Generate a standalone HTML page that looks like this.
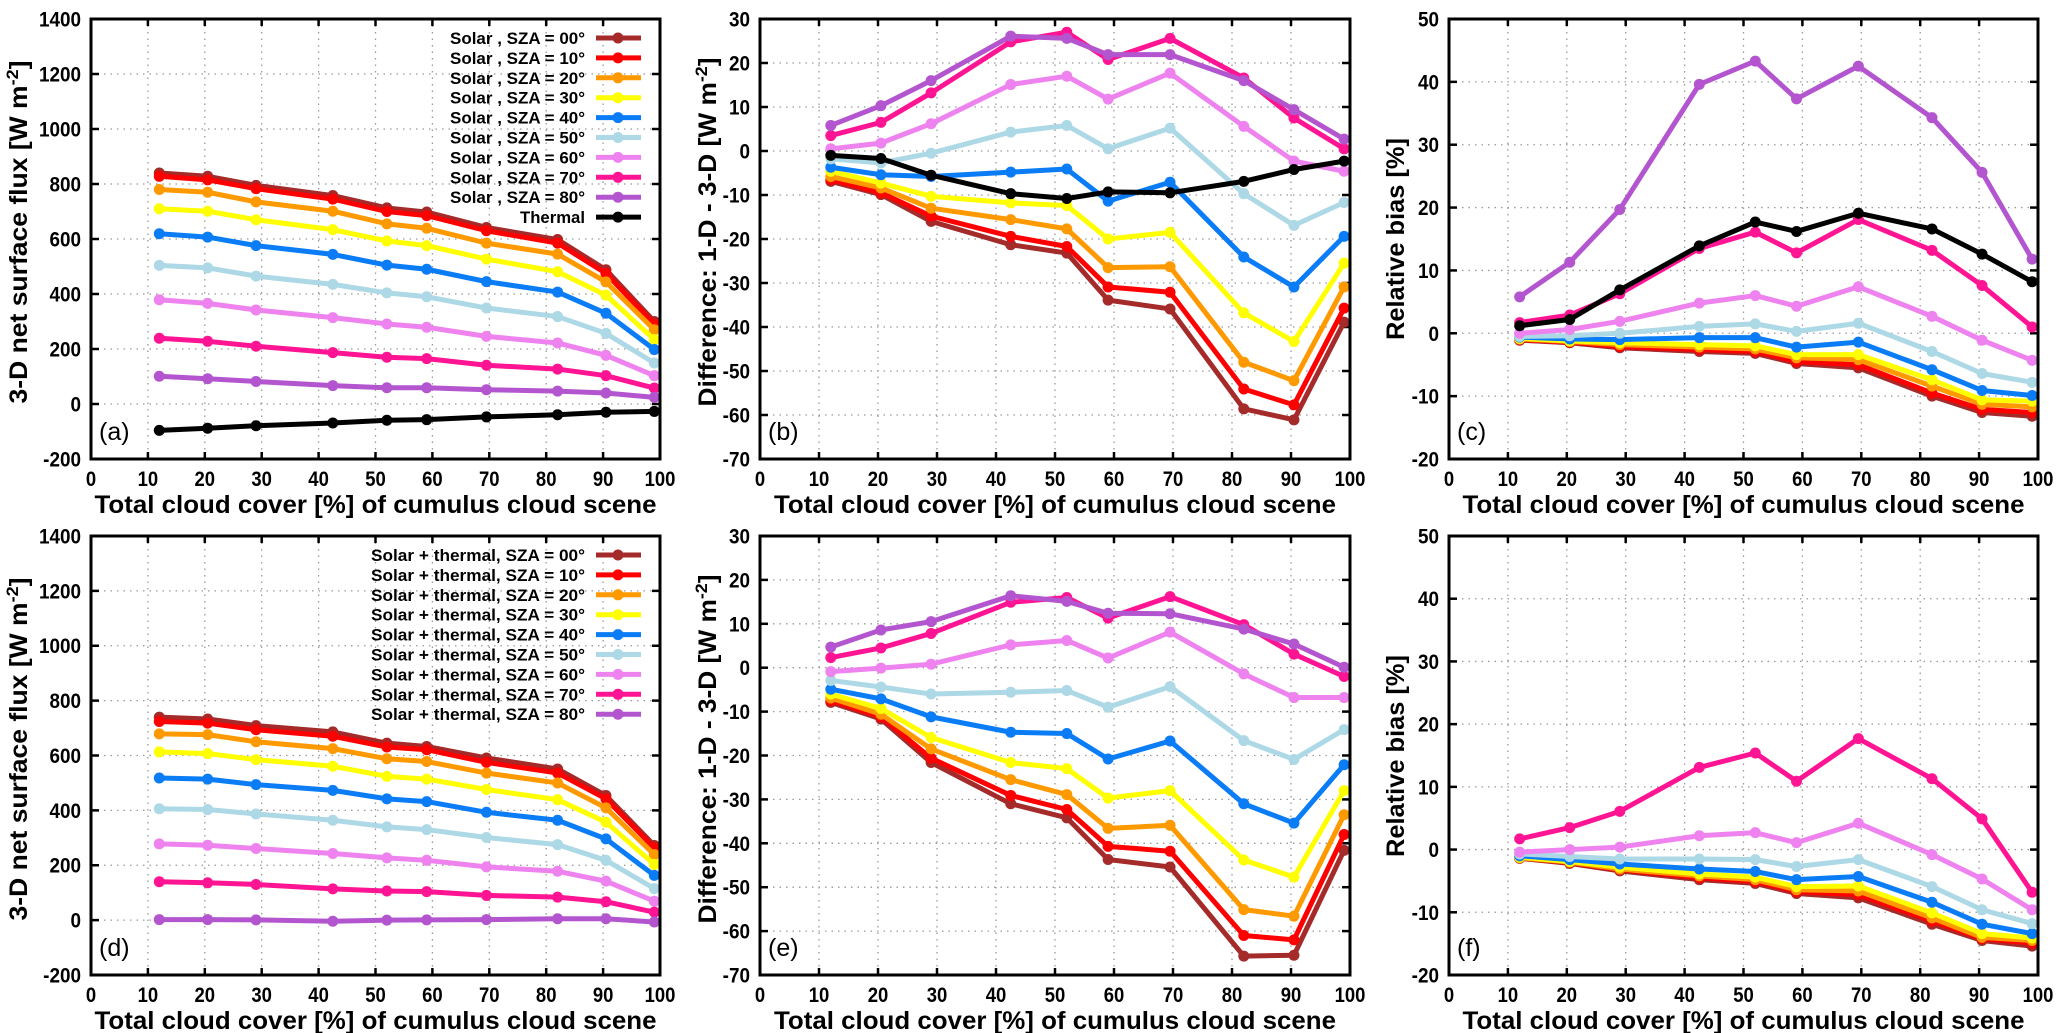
<!DOCTYPE html>
<html><head><meta charset="utf-8"><title>Cloud cover flux panels</title>
<style>
html,body{margin:0;padding:0;background:#fff;}
svg{display:block;font-family:"Liberation Sans",Arial,sans-serif;}
</style></head>
<body>
<svg id="fig" width="2067" height="1033" viewBox="0 0 2067 1033" xmlns="http://www.w3.org/2000/svg"></svg>
<script>
const cover=[12,20.5,29,42.5,52,59,69.5,82,90.5,99];
const xTicks=[0,10,20,30,40,50,60,70,80,90,100];
const fluxTicks=[-200,0,200,400,600,800,1000,1200,1400];
const diffTicks=[-70,-60,-50,-40,-30,-20,-10,0,10,20,30];
const biasTicks=[-20,-10,0,10,20,30,40,50];
const szaLabels=['00','10','20','30','40','50','60','70','80'];
const seriesColors=['#a52a2a','#ff0000','#ff9900','#ffff00','#0a7cf5','#add8e6','#ee82ee','#ff1493','#b455d0'];

const aSolar=[
[840,828,795,758,713,698,642,598,488,300],
[828,815,783,745,700,685,630,585,475,290],
[780,770,735,701,655,639,585,545,444,270],
[710,701,670,634,593,576,527,481,396,234],
[619,607,576,544,505,490,445,407,330,198],
[504,495,465,435,404,390,349,318,257,149],
[379,366,342,314,291,279,246,222,177,103],
[239,228,210,187,170,165,141,127,103,58],
[101,92,82,67,59,59,52,47,40,24]];
const aThermal=[-96,-88,-79,-69,-59,-57,-47,-39,-30,-27];

const bSolar=[
[-6.9,-9.9,-16,-21.3,-23.2,-33.9,-35.9,-58.6,-61.1,-38.9],
[-6.5,-9.5,-14.8,-19.4,-21.7,-30.9,-32.1,-54.1,-57.7,-35.7],
[-5.8,-8.4,-13,-15.6,-17.7,-26.5,-26.3,-48,-52.2,-30.9],
[-4.6,-7.3,-10.3,-11.8,-12.4,-20,-18.5,-36.8,-43.3,-25.5],
[-3.7,-5.4,-5.8,-4.8,-4.1,-11.4,-7.1,-24.1,-30.9,-19.4],
[-1.8,-2.7,-0.5,4.3,5.8,0.5,5.2,-9.7,-16.9,-11.7],
[0.5,1.8,6.2,15.1,17,11.8,17.7,5.6,-2.3,-4.6],
[3.5,6.5,13.2,24.8,27,20.8,25.6,16.6,7.5,0.5],
[5.8,10.3,16,26.1,25.6,21.9,21.9,16,9.4,2.7]];
const bThermal=[-1,-1.7,-5.5,-9.7,-10.8,-9.3,-9.5,-6.9,-4.2,-2.3];

const cSolar=[
[-1.1,-1.5,-2.3,-2.9,-3.2,-4.8,-5.5,-10,-12.6,-13.2],
[-1,-1.4,-2.1,-2.6,-2.9,-4.5,-5,-9.5,-12.1,-12.6],
[-0.9,-1.3,-1.8,-2.2,-2.5,-3.9,-4.2,-8.4,-11.3,-11.7],
[-0.8,-1.2,-1.5,-1.8,-2,-3.4,-3.4,-7.4,-10.6,-10.8],
[-0.6,-0.9,-1,-0.7,-0.7,-2.2,-1.4,-5.8,-9.1,-9.9],
[-0.5,-0.4,0,1.1,1.5,0.3,1.6,-2.9,-6.4,-7.8],
[0,0.6,1.9,4.8,6,4.3,7.4,2.7,-1.1,-4.3],
[1.7,2.9,6.3,13.5,16.1,12.8,18.1,13.2,7.6,1],
[5.8,11.3,19.7,39.6,43.3,37.3,42.5,34.3,25.6,11.8]];
const cThermal=[1.2,2.2,6.9,13.9,17.7,16.2,19.1,16.6,12.6,8.2];

const dTotal=[
[740,733,709,686,645,633,591,551,454,272],
[724,718,694,670,631,621,575,536,442,263],
[679,676,650,625,588,578,536,500,409,239],
[613,607,585,561,524,514,476,439,357,203],
[518,514,494,473,442,432,393,364,296,163],
[406,403,387,364,340,330,301,275,218,115],
[278,273,261,243,227,218,194,178,142,69],
[140,136,130,114,106,104,90,84,67,29],
[2,2,1,-4,0,1,2,5,5,-7]];

const eTotal=[
[-7.9,-11.7,-21.6,-31,-34.2,-43.7,-45.4,-65.7,-65.5,-41.6],
[-7.5,-11.2,-20.6,-29.1,-32.3,-40.7,-41.8,-61,-62,-38],
[-6.9,-10.6,-18.5,-25.5,-28.9,-36.6,-35.9,-55.1,-56.6,-33.5],
[-6,-9.3,-15.9,-21.6,-23,-29.7,-28,-43.8,-47.7,-28],
[-4.9,-7.1,-11.2,-14.7,-15,-20.8,-16.7,-31,-35.4,-22.1],
[-2.9,-4.4,-6,-5.6,-5.2,-9,-4.3,-16.6,-20.9,-14.1],
[-0.9,-0.1,0.8,5.2,6.2,2.2,8.1,-1.4,-6.8,-6.8],
[2.3,4.5,7.8,14.9,16,11.3,16.2,9.8,3.1,-2.0],
[4.7,8.6,10.5,16.4,15.1,12.4,12.3,8.8,5.4,0.1]];

const fTotal=[
[-1.4,-2.2,-3.4,-4.8,-5.4,-7,-7.7,-11.9,-14.5,-15.4],
[-1.3,-2.1,-3.2,-4.5,-5.1,-6.7,-7.2,-11.4,-14.2,-14.9],
[-1.3,-2,-3.1,-4.2,-4.8,-6.4,-6.6,-10.9,-14,-14.5],
[-1.2,-1.9,-2.8,-3.9,-4.4,-5.9,-5.8,-10.1,-13.4,-14.1],
[-1,-1.6,-2.3,-3.1,-3.5,-4.8,-4.3,-8.4,-11.9,-13.4],
[-0.7,-1.1,-1.5,-1.5,-1.6,-2.7,-1.6,-5.9,-9.6,-11.8],
[-0.4,0,0.4,2.2,2.7,1.1,4.2,-0.8,-4.7,-9.6],
[1.7,3.5,6.1,13.1,15.4,10.9,17.7,11.3,4.9,-6.8],
[null,null,null,null,null,null,null,null,null,null]];

const NS='http://www.w3.org/2000/svg';
const svg=document.getElementById('fig');
function mk(tag,attrs,parent){const e=document.createElementNS(NS,tag);for(const k in attrs)e.setAttribute(k,attrs[k]);(parent||svg).appendChild(e);return e;}

const XT='Total cloud cover [%] of cumulus cloud scene';
const panels=[
 {id:'a',x0:91,x1:660,y0:19,y1:459,ticks:fluxTicks,solar:aSolar,thermal:aThermal,yt:'3-D net surface flux [W m',ytx:18,ytl:343,legend:'solar'},
 {id:'b',x0:760,x1:1350,y0:19,y1:459,ticks:diffTicks,solar:bSolar,thermal:bThermal,yt:'Difference:  1-D - 3-D  [W m',ytx:707,ytl:349},
 {id:'c',x0:1449,x1:2038,y0:19,y1:459,ticks:biasTicks,solar:cSolar,thermal:cThermal,yt:'Relative bias [%]',ytx:1395,ytl:202,plain:true},
 {id:'d',x0:91,x1:660,y0:536,y1:975,ticks:fluxTicks,solar:dTotal,thermal:null,yt:'3-D net surface flux  [W m',ytx:18,ytl:343,legend:'total'},
 {id:'e',x0:760,x1:1350,y0:536,y1:975,ticks:diffTicks,solar:eTotal,thermal:null,yt:'Difference:  1-D - 3-D  [W m',ytx:707,ytl:349},
 {id:'f',x0:1449,x1:2038,y0:536,y1:975,ticks:biasTicks,solar:fTotal,thermal:null,yt:'Relative bias [%]',ytx:1395,ytl:202,plain:true}
];

panels.forEach(p=>{
 const g=mk('g',{});
 
 
 const ymin=p.ticks[0], ymax=p.ticks[p.ticks.length-1];
 const sx=v=>p.x0+(v-0)/(100-0)*(p.x1-p.x0);
 const sy=v=>p.y1-(v-ymin)/(ymax-ymin)*(p.y1-p.y0);
 // grid
 const grid=mk('g',{stroke:'#999','stroke-width':1.3,'stroke-dasharray':'1.5 5'},g);
 
 
 xTicks.slice(1,-1).forEach(t=>mk('line',{x1:sx(t),x2:sx(t),y1:p.y0,y2:p.y1},grid));
 p.ticks.slice(1,-1).forEach(t=>mk('line',{x1:p.x0,x2:p.x1,y1:sy(t),y2:sy(t)},grid));
 // ticks
 const tk=mk('g',{stroke:'#000','stroke-width':2.5},g);
 xTicks.forEach(t=>{mk('line',{x1:sx(t),x2:sx(t),y1:p.y1,y2:p.y1-7},tk);mk('line',{x1:sx(t),x2:sx(t),y1:p.y0,y2:p.y0+7},tk);});
 p.ticks.forEach(t=>{mk('line',{x1:p.x0,x2:p.x0+8,y1:sy(t),y2:sy(t)},tk);mk('line',{x1:p.x1,x2:p.x1-8,y1:sy(t),y2:sy(t)},tk);});
 // tick labels
 const xl=mk('g',{'font-size':21,'font-weight':'bold','text-anchor':'middle'},g);
 
 
 xTicks.forEach(t=>{const e=mk('text',{x:sx(t),y:p.y1+27,transform:`translate(${sx(t)},0) scale(0.88,1) translate(${-sx(t)},0)`},xl);e.textContent=t;});
 const yl=mk('g',{'font-size':21,'font-weight':'bold','text-anchor':'end'},g);
 
 
 p.ticks.forEach(t=>{const x=p.x0-10;const e=mk('text',{x:x,y:sy(t)+7.5,transform:`translate(${x},0) scale(0.9,1) translate(${-x},0)`},yl);e.textContent=t;});
 // axis titles
 const xt=mk('text',{x:(p.x0+p.x1)/2,y:p.y1+54,'font-size':25,'font-weight':'bold','text-anchor':'middle',textLength:562,lengthAdjust:'spacingAndGlyphs'},g);
 xt.textContent=XT;
 
 
 const cy=p.plain?(p.y0+220):(p.y0+213);
 const yt=mk('text',{x:0,y:0,'font-size':25,'font-weight':'bold','text-anchor':'middle',transform:`translate(${p.ytx+9},${cy}) rotate(-90)`,textLength:p.ytl,lengthAdjust:'spacingAndGlyphs'},g);
 if(p.plain){yt.textContent=p.yt;}else{yt.textContent=p.yt;const sup=mk('tspan',{dy:-9,'font-size':17},yt);sup.textContent='-2';const r=mk('tspan',{dy:9},yt);r.textContent=']';}
 
 
 // panel label
 const pl=mk('text',{x:p.x0+8,y:p.y1-19,'font-size':25},g);
 pl.textContent='('+p.id+')';
 
 
 // series
 const drawSeries=(vals,color,name)=>{
  const sg=mk('g',{},g);
  
  
  const pts=[];vals.forEach((v,i)=>{if(v!==null)pts.push([sx(cover[i]),sy(v)]);});
  if(!pts.length)return;
  mk('polyline',{points:pts.map(q=>q.join(',')).join(' '),fill:'none',stroke:color,'stroke-width':5,'stroke-linejoin':'round'},sg);
  pts.forEach(q=>mk('circle',{cx:q[0],cy:q[1],r:5.5,fill:color},sg));
 };
 p.solar.forEach((s,k)=>drawSeries(s,seriesColors[k],'series-'+p.id+'-sza'+szaLabels[k]));
 if(p.thermal)drawSeries(p.thermal,'#000','series-'+p.id+'-thermal');
 // frame
 const fr=mk('rect',{x:p.x0,y:p.y0,width:p.x1-p.x0,height:p.y1-p.y0,fill:'none',stroke:'#000','stroke-width':3},g);
 
 
 // legend
 if(p.legend){
  const lg=mk('g',{},g);
  
  
  const entries=szaLabels.map((s,k)=>({t:(p.legend==='solar'?'Solar , SZA = ':'Solar + thermal, SZA = ')+s+'°',c:seriesColors[k]}));
  if(p.legend==='solar')entries.push({t:'Thermal',c:'#000'});
  const base=p.legend==='solar'?38:555;
  entries.forEach((en,i)=>{
   const y=base+i*19.9;
   const eg=mk('g',{},lg);
   
   
   const tl=en.t==='Thermal'?65:(p.legend==='solar'?135:214);
   const t=mk('text',{x:585,y:y+6,'font-size':17,'font-weight':'bold','text-anchor':'end',textLength:tl,lengthAdjust:'spacingAndGlyphs'},eg);
   t.textContent=en.t;
   mk('line',{x1:596,x2:641,y1:y,y2:y,stroke:en.c,'stroke-width':5},eg);
   mk('circle',{cx:618,cy:y,r:5.5,fill:en.c},eg);
  });
 }
});
</script>
</body></html>
